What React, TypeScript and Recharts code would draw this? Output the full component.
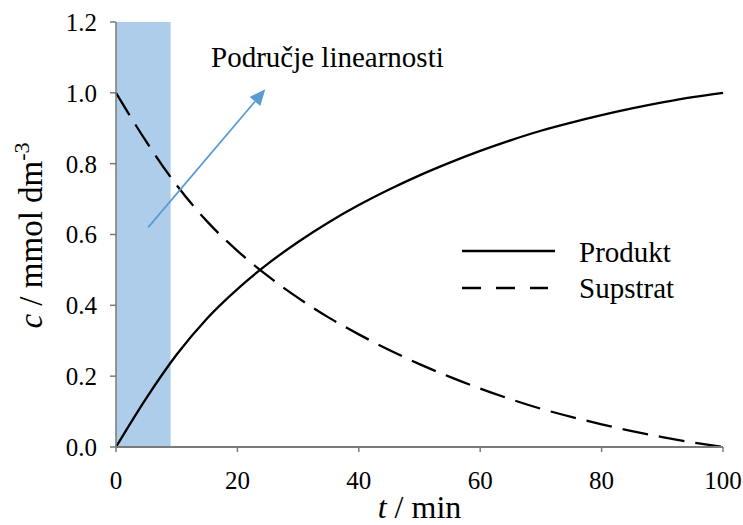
import React from 'react'
import {
  LineChart,
  Line,
  XAxis,
  YAxis,
  ReferenceArea,
  ReferenceLine,
  Customized,
} from 'recharts'

const FONT = 'Liberation Serif, DejaVu Serif, Times New Roman, serif'

// values
const times = [0, 5, 10, 15, 20, 25, 30, 35, 40, 45, 50, 55, 60, 65, 70, 75, 80, 85, 90, 95, 100]
const produkt = [0, 0.138, 0.261, 0.363, 0.446, 0.517, 0.579, 0.634, 0.683, 0.727, 0.767, 0.803, 0.836, 0.866, 0.893, 0.916, 0.937, 0.956, 0.973, 0.988, 1.0]
const supstrat = [1.0, 0.862, 0.739, 0.637, 0.554, 0.483, 0.421, 0.366, 0.318, 0.274, 0.234, 0.198, 0.165, 0.135, 0.108, 0.085, 0.064, 0.045, 0.028, 0.013, 0]

const xTicks = [0, 20, 40, 60, 80, 100]
const yTicks = [0, 0.2, 0.4, 0.6, 0.8, 1.0, 1.2]

const linearRange = [0, 9]
const arrowFrom = { x: 5.3, y: 0.62 }
const arrowTo = { x: 24.6, y: 1.01 }

const data = times.map((t, i) => ({ t, produkt: produkt[i], supstrat: supstrat[i] }))

const AXIS = '#7a7a7a'
const FRAME = '#3a3a3a'
const BLUE = '#5b9bd5'

function Arrow(props: any) {
  const { x1, y1, x2, y2 } = props
  const dx = x2 - x1
  const dy = y2 - y1
  const len = Math.sqrt(dx * dx + dy * dy)
  const ux = dx / len
  const uy = dy / len
  const head = 16
  const half = 7
  const bx = x2 - ux * head
  const by = y2 - uy * head
  const pts = `${x2},${y2} ${bx - uy * half},${by + ux * half} ${bx + uy * half},${by - ux * half}`
  return (
    <g>
      <line x1={x1} y1={y1} x2={bx} y2={by} stroke={BLUE} strokeWidth={1.8} />
      <polygon points={pts} fill={BLUE} />
    </g>
  )
}

function Annotations() {
  return (
    <g style={{ fontFamily: FONT }} fill="#000">
      <text x={211} y={67} fontSize={29}>Područje linearnosti</text>
      <line x1={462} y1={251} x2={555} y2={251} stroke="#000" strokeWidth={2.3} />
      <text x={579} y={262} fontSize={29}>Produkt</text>
      <line x1={462} y1={288} x2={548} y2={288} stroke="#000" strokeWidth={2.3} strokeDasharray="19 15" />
      <text x={579} y={298} fontSize={29}>Supstrat</text>
    </g>
  )
}

const tickStyle = { fill: '#000', fontSize: 25, fontFamily: FONT }

export default function App() {
  return (
    <div style={{ width: 743, height: 525, background: '#fff', fontFamily: FONT }}>
      <style>{`body{margin:0} svg text{font-family:${FONT}}`}</style>
      <LineChart
        width={743}
        height={525}
        data={data}
        margin={{ top: 22, right: 20, bottom: 0, left: 0 }}
      >
        <XAxis
          dataKey="t"
          type="number"
          domain={[0, 100]}
          ticks={xTicks}
          height={78}
          tickSize={5}
          tickMargin={19}
          stroke={AXIS}
          axisLine={{ stroke: AXIS, strokeWidth: 2 }}
          tickLine={{ stroke: AXIS, strokeWidth: 1.5 }}
          tick={tickStyle}
          label={{
            content: ({ viewBox }: any) => (
              <text
                x={viewBox.x + viewBox.width / 2}
                y={viewBox.y + 71}
                textAnchor="middle"
                fontSize={32}
                fill="#000"
              >
                <tspan fontStyle="italic">t</tspan>
                <tspan> / min</tspan>
              </text>
            ),
          }}
        />
        <XAxis
          xAxisId="top"
          orientation="top"
          type="number"
          domain={[0, 100]}
          height={0}
          tick={false}
          tickLine={false}
          axisLine={{ stroke: FRAME, strokeWidth: 1.2 }}
        />
        <YAxis
          type="number"
          domain={[0, 1.2]}
          ticks={yTicks}
          width={116}
          tickSize={6}
          tickMargin={13}
          tickFormatter={(v: number) => v.toFixed(1)}
          axisLine={{ stroke: AXIS, strokeWidth: 1.5 }}
          tickLine={{ stroke: AXIS, strokeWidth: 1.5 }}
          tick={tickStyle}
          label={{
            content: ({ viewBox }: any) => {
              const cy = viewBox.y + viewBox.height / 2 + 1
              return (
                <text
                  x={42}
                  y={cy}
                  transform={`rotate(-90, 42, ${cy})`}
                  textAnchor="middle"
                  fontSize={33}
                  fill="#000"
                >
                  <tspan fontStyle="italic">c</tspan>
                  <tspan> / mmol dm</tspan>
                  <tspan fontSize={22} dy={-13}>-3</tspan>
                </text>
              )
            },
          }}
        />
        <YAxis
          yAxisId="right"
          orientation="right"
          type="number"
          domain={[0, 1.2]}
          width={0}
          tick={false}
          tickLine={false}
          axisLine={{ stroke: FRAME, strokeWidth: 1.2 }}
        />
        <Line
          type="monotone"
          dataKey="produkt"
          stroke="#000"
          strokeWidth={2.3}
          dot={false}
          activeDot={false}
          isAnimationActive={false}
        />
        <Line
          type="monotone"
          dataKey="supstrat"
          stroke="#000"
          strokeWidth={2.3}
          strokeDasharray="26 11"
          dot={false}
          activeDot={false}
          isAnimationActive={false}
        />
        <ReferenceArea
          x1={linearRange[0]}
          x2={linearRange[1]}
          y1={0}
          y2={1.2}
          fill={BLUE}
          fillOpacity={0.5}
          stroke="none"
        />
        <ReferenceLine segment={[arrowFrom, arrowTo]} shape={Arrow} />
        <Customized component={Annotations} />
      </LineChart>
    </div>
  )
}
